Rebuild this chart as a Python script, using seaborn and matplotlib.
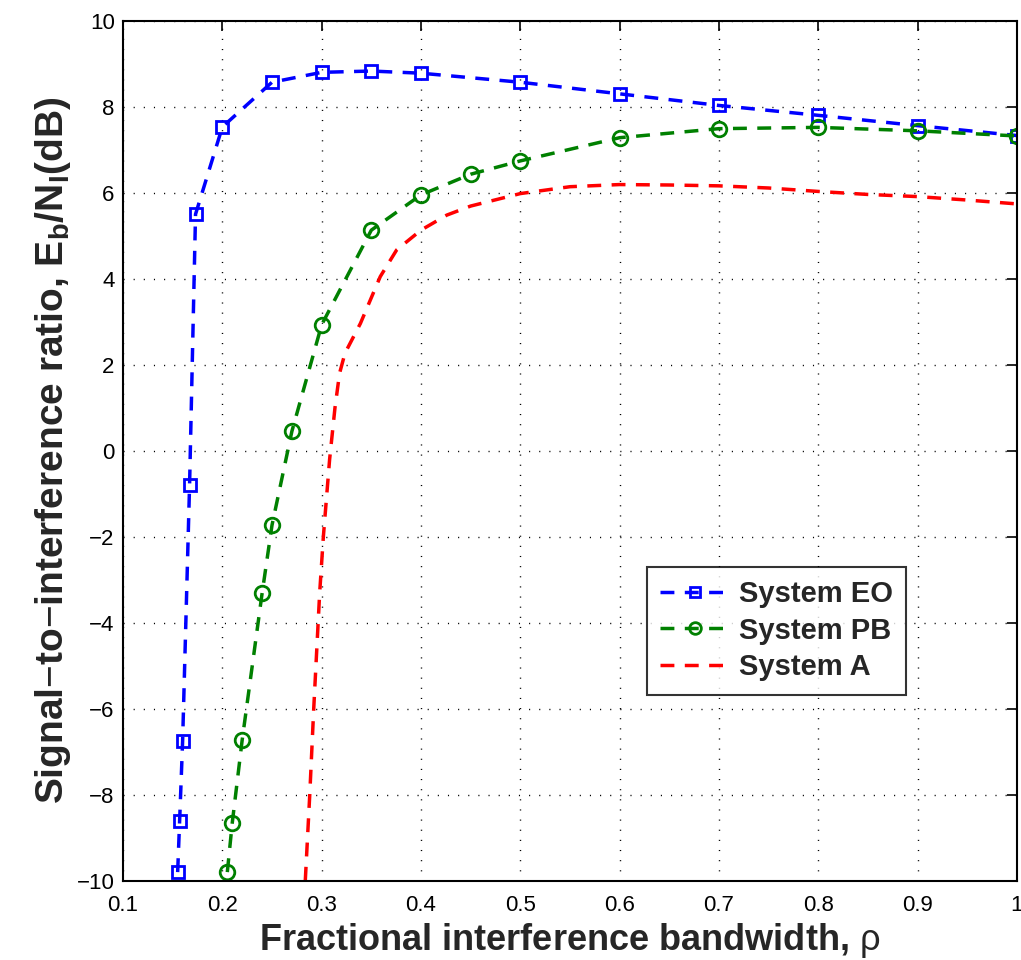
import matplotlib
matplotlib.use("Agg")
import matplotlib.pyplot as plt
import seaborn as sns
import pandas as pd

# ---------------- data ----------------
eo_x = [0.155, 0.157, 0.160, 0.167, 0.173, 0.2, 0.25, 0.3, 0.35, 0.4, 0.5, 0.6, 0.7, 0.8, 0.9, 1.0]
eo_y = [-9.8, -8.6, -6.75, -0.8, 5.5, 7.53, 8.57, 8.8, 8.83, 8.78, 8.57, 8.3, 8.03, 7.8, 7.56, 7.33]

pb_x = [0.205, 0.21, 0.22, 0.24, 0.25, 0.27, 0.3, 0.35, 0.4, 0.45, 0.5, 0.6, 0.7, 0.8, 0.9, 1.0]
pb_y = [-9.8, -8.65, -6.72, -3.32, -1.73, 0.45, 2.93, 5.13, 5.95, 6.43, 6.74, 7.28, 7.49, 7.52, 7.44, 7.32]

a_x = [0.2835, 0.288, 0.292, 0.298, 0.3017, 0.308, 0.3134, 0.318, 0.3235, 0.339, 0.359, 0.3755,
       0.40, 0.426, 0.45, 0.5, 0.55, 0.6, 0.65, 0.7, 0.75, 0.8, 0.85, 0.9, 0.95, 1.0]
a_y = [-10.0, -8.0, -6.0, -3.3, -2.0, -0.2, 1.0, 1.8, 2.27, 2.96, 4.05, 4.67,
       5.13, 5.48, 5.69, 5.98, 6.14, 6.19, 6.18, 6.16, 6.11, 6.03, 5.96, 5.91, 5.83, 5.74]

labels = ["System EO", "System PB", "System A"]
colors = ["#0000ff", "#008000", "#ff0000"]

x_ticks = [0.1, 0.2, 0.3, 0.4, 0.5, 0.6, 0.7, 0.8, 0.9, 1.0]
x_tick_labels = ["0.1", "0.2", "0.3", "0.4", "0.5", "0.6", "0.7", "0.8", "0.9", "1"]
y_ticks = [-10, -8, -6, -4, -2, 0, 2, 4, 6, 8, 10]

# ---------------- style ----------------
sns.set_style("white")
plt.rcParams["font.family"] = ["Liberation Sans", "DejaVu Sans"]
plt.rcParams["mathtext.fontset"] = "custom"
plt.rcParams["mathtext.rm"] = "Liberation Sans"
plt.rcParams["mathtext.bf"] = "Liberation Sans:bold"
plt.rcParams["mathtext.it"] = "Liberation Sans:italic"

fig = plt.figure(figsize=(10.21, 9.6), dpi=100)
ax = fig.add_axes([0.1205, 0.0826, 0.8755, 0.8958])

lw = 2.5
dash = (4.0, 3.0)

sns.lineplot(x=eo_x, y=eo_y, ax=ax, color=colors[0], lw=lw,
             marker="s", markersize=9, markerfacecolor="none",
             markeredgecolor=colors[0], markeredgewidth=2, label=labels[0], sort=False)
sns.lineplot(x=pb_x, y=pb_y, ax=ax, color=colors[1], lw=lw,
             marker="o", markersize=10.5, markerfacecolor="none",
             markeredgecolor=colors[1], markeredgewidth=2, label=labels[1], sort=False)
sns.lineplot(x=a_x, y=a_y, ax=ax, color=colors[2], lw=lw, label=labels[2], sort=False)

# matlab style dashed lines
for line in ax.get_lines():
    line.set_linestyle((0, dash))

ax.set_xlim(0.1, 1.0)
ax.set_ylim(-10, 10)
ax.set_xticks(x_ticks)
ax.set_xticklabels(x_tick_labels)
ax.set_yticks(y_ticks)

ax.grid(True, color="black", linestyle=(0, (0.8, 6.5)), linewidth=1.0)
ax.tick_params(direction="in", length=7, width=1.2, labelsize=16,
               top=True, right=True, colors="black")
ax.tick_params(axis="x", pad=10)
ax.tick_params(axis="y", pad=6)
for s in ax.spines.values():
    s.set_linewidth(1.5)
    s.set_color("black")

ax.set_xlabel(r"Fractional interference bandwidth, $\mathrm{\rho}$",
              fontsize=26, fontweight="bold", labelpad=4)
ax.set_ylabel(r"Signal$-$to$-$interference ratio, E$_\mathbf{b}$/N$_\mathbf{I}$(dB)",
              fontsize=28, fontweight="bold", labelpad=3)

leg = ax.legend(loc="upper left", bbox_to_anchor=(0.57, 0.382),
                prop={"weight": "bold", "size": 21}, frameon=True, fancybox=False,
                handlelength=2.4, borderpad=0.45, labelspacing=0.3, handletextpad=0.3,
                markerscale=0.8)
leg.get_frame().set_edgecolor("black")
leg.get_frame().set_linewidth(1.5)

fig.savefig("out.png", dpi=100)
